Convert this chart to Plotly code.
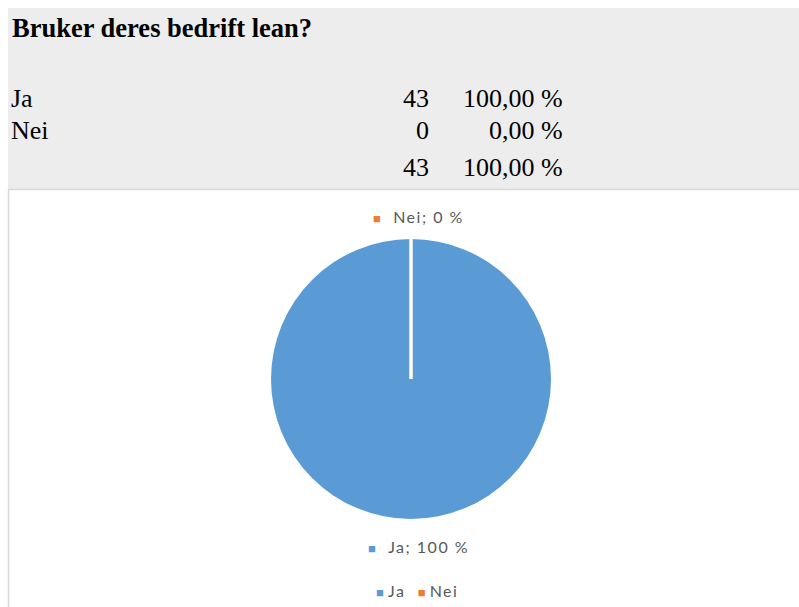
import math
import plotly.graph_objects as go

# Survey answers
question = "Bruker deres bedrift lean?"
categories = ["Ja", "Nei"]
counts = [43, 0]
colors = ["#5B9BD5", "#ED7D31"]

W, H = 799, 607
total = sum(counts)


def px(x):
    return x / W


def py(y):
    return 1 - y / H


def pct_text(v, decimals=2):
    return f"{100 * v / total:.{decimals}f}".replace(".", ",") + " %"


# Pie placement (pixels)
cx, cy, r = 411, 379, 140

fig = go.Figure()
fig.add_trace(go.Pie(
    labels=categories,
    values=counts,
    marker=dict(colors=colors, line=dict(width=0)),
    sort=False,
    direction="clockwise",
    rotation=0,
    textinfo="none",
    hoverinfo="label+value+percent",
    showlegend=False,
    domain=dict(x=[px(cx - r), px(cx + r)], y=[py(cy + r), py(cy - r)]),
))

shapes = [
    # grey table panel
    dict(type="rect", xref="paper", yref="paper", layer="below",
         x0=px(8), x1=1, y0=py(189), y1=py(8),
         fillcolor="#EDEDED", line=dict(width=0)),
    dict(type="line", xref="paper", yref="paper",
         x0=px(8), x1=1, y0=py(189.5), y1=py(189.5),
         line=dict(color="#D9D9D9", width=1.5)),
    dict(type="line", xref="paper", yref="paper",
         x0=px(8.5), x1=px(8.5), y0=py(190), y1=0,
         line=dict(color="#D9D9D9", width=1.5)),
]

# slice boundaries drawn from the cumulative shares
cum = 0
for v in counts:
    cum += v
    ang = 2 * math.pi * cum / total
    ex = cx + r * math.sin(ang)
    ey = cy - r * math.cos(ang)
    shapes.append(dict(type="line", xref="paper", yref="paper",
                       x0=px(cx), y0=py(cy), x1=px(ex), y1=py(ey),
                       line=dict(color="white", width=3)))

serif_family = "Liberation Serif, Times New Roman, serif"
serif = dict(family=serif_family, size=26, color="black")
sans = dict(family="Lato, Open Sans, sans-serif", size=16, color="#595959")

annotations = [
    dict(text=f"<b>{question}</b>", x=px(10), y=py(28), xanchor="left", yanchor="middle",
         font=dict(family=serif_family, size=26.5, color="black")),
]

row_y = [98, 131]
for cat, v, yy in zip(categories, counts, row_y):
    annotations += [
        dict(text=cat, x=px(9), y=py(yy), xanchor="left", yanchor="middle", font=serif),
        dict(text=str(v), x=px(431), y=py(yy), xanchor="right", yanchor="middle", font=serif),
        dict(text=pct_text(v), x=px(565), y=py(yy), xanchor="right", yanchor="middle", font=serif),
    ]
annotations += [
    dict(text=str(total), x=px(431), y=py(168), xanchor="right", yanchor="middle", font=serif),
    dict(text=pct_text(total), x=px(565), y=py(168), xanchor="right", yanchor="middle", font=serif),
]

sq = '<span style="color:{c};font-size:13px">■</span>'
spaced = '<span style="letter-spacing:1.5px">{t}</span>'

# data labels
label_y = {"Ja": 546, "Nei": 216}
for cat, v, c in zip(categories, counts, colors):
    annotations.append(dict(
        text=sq.format(c=c) + "   " + spaced.format(t=f"{cat}; {round(100 * v / total)} %"),
        x=px(cx + 7), y=py(label_y[cat]), xanchor="center", yanchor="middle", font=sans))

# legend row
legend_text = "   ".join(
    sq.format(c=c) + " " + spaced.format(t=cat) for cat, c in zip(categories, colors))
annotations.append(dict(text=legend_text, x=px(417), y=py(590), xanchor="center",
                        yanchor="middle", font=sans))

for a in annotations:
    a.update(xref="paper", yref="paper", showarrow=False)

fig.update_layout(
    width=W, height=H,
    margin=dict(l=0, r=0, t=0, b=0),
    paper_bgcolor="white",
    plot_bgcolor="white",
    shapes=shapes,
    annotations=annotations,
)

fig.write_html("out.html")
